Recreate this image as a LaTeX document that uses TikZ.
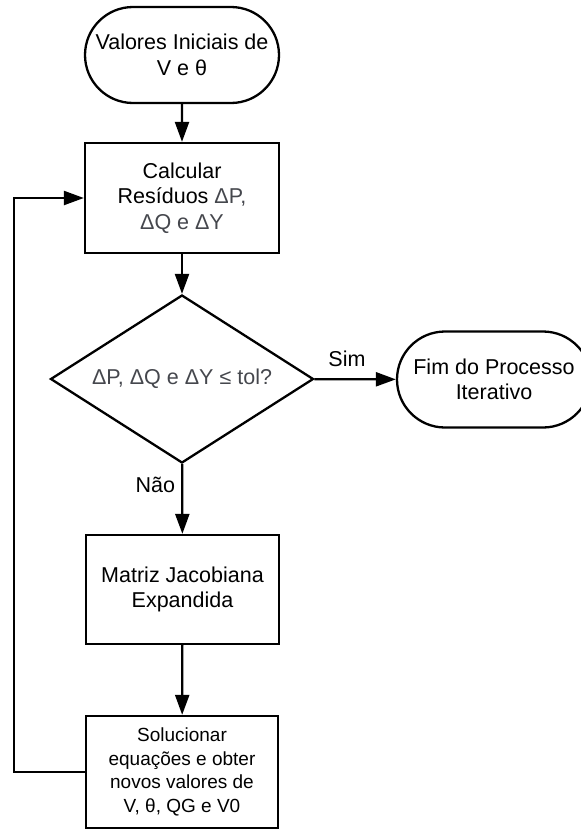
\documentclass[tikz,border=0pt]{standalone}
\usepackage{fontspec}
\setmainfont{Liberation Sans}
\usetikzlibrary{shapes.misc,shapes.geometric,arrows.meta}
\definecolor{dgray}{HTML}{45474D}
\tikzset{
  base/.style={draw=black, line width=2.3pt, inner sep=0pt, align=center,
    font=\fontsize{21.5}{25.5}\selectfont},
  term/.style={base, rounded rectangle, minimum width=194pt, minimum height=96pt},
  proc/.style={base, rectangle, minimum width=194pt, minimum height=110pt},
  dec/.style={base, diamond, aspect=1.565, minimum width=263pt, minimum height=168pt},
  arr/.style={line width=2.3pt, -{Triangle[length=20pt,width=14pt]}},
  lbl/.style={font=\fontsize{21.5}{25.5}\selectfont, inner sep=0pt},
}
\begin{document}
\begin{tikzpicture}[x=1pt,y=-1pt]
\useasboundingbox (0,0) rectangle (581,830);
\begin{scope}
\clip (0,0) rectangle (581,830);
\node[term] (start) at (182,55) {Valores Iniciais de\\V e θ};
\node[proc] (calc) at (182,198) {Calcular\\Resíduos \textcolor{dgray}{ΔP,}\\\textcolor{dgray}{ΔQ e ΔY}};
\node[dec] (cond) at (182,379) {\textcolor{dgray}{ΔP, ΔQ e ΔY ≤ tol?}};
\node[term] (fim) at (494,379.5) {Fim do Processo\\Iterativo};
\node[proc, minimum width=193pt, minimum height=109pt] (mat) at (182.5,589.5) {Matriz Jacobiana\\Expandida};
\node[proc, minimum width=192pt, minimum height=112pt, font=\fontsize{19}{23.5}\selectfont] (sol) at (182,772) {Solucionar\\equações e obter\\novos valores de\\V, θ, QG e V0};
\coordinate (lp) at (14,772);
\draw[arr] (start) -- (calc);
\draw[arr] (calc) -- (cond);
\draw[arr] (cond) -- node[lbl, pos=0.4, above=11pt] {Sim} (fim);
\draw[arr] (cond) -- node[lbl, pos=0.3, left=6pt] {Não} (mat);
\draw[arr] (mat) -- (sol);
\draw[arr] (sol.west) -- (lp) |- (calc.west);
\end{scope}
\end{tikzpicture}
\end{document}
